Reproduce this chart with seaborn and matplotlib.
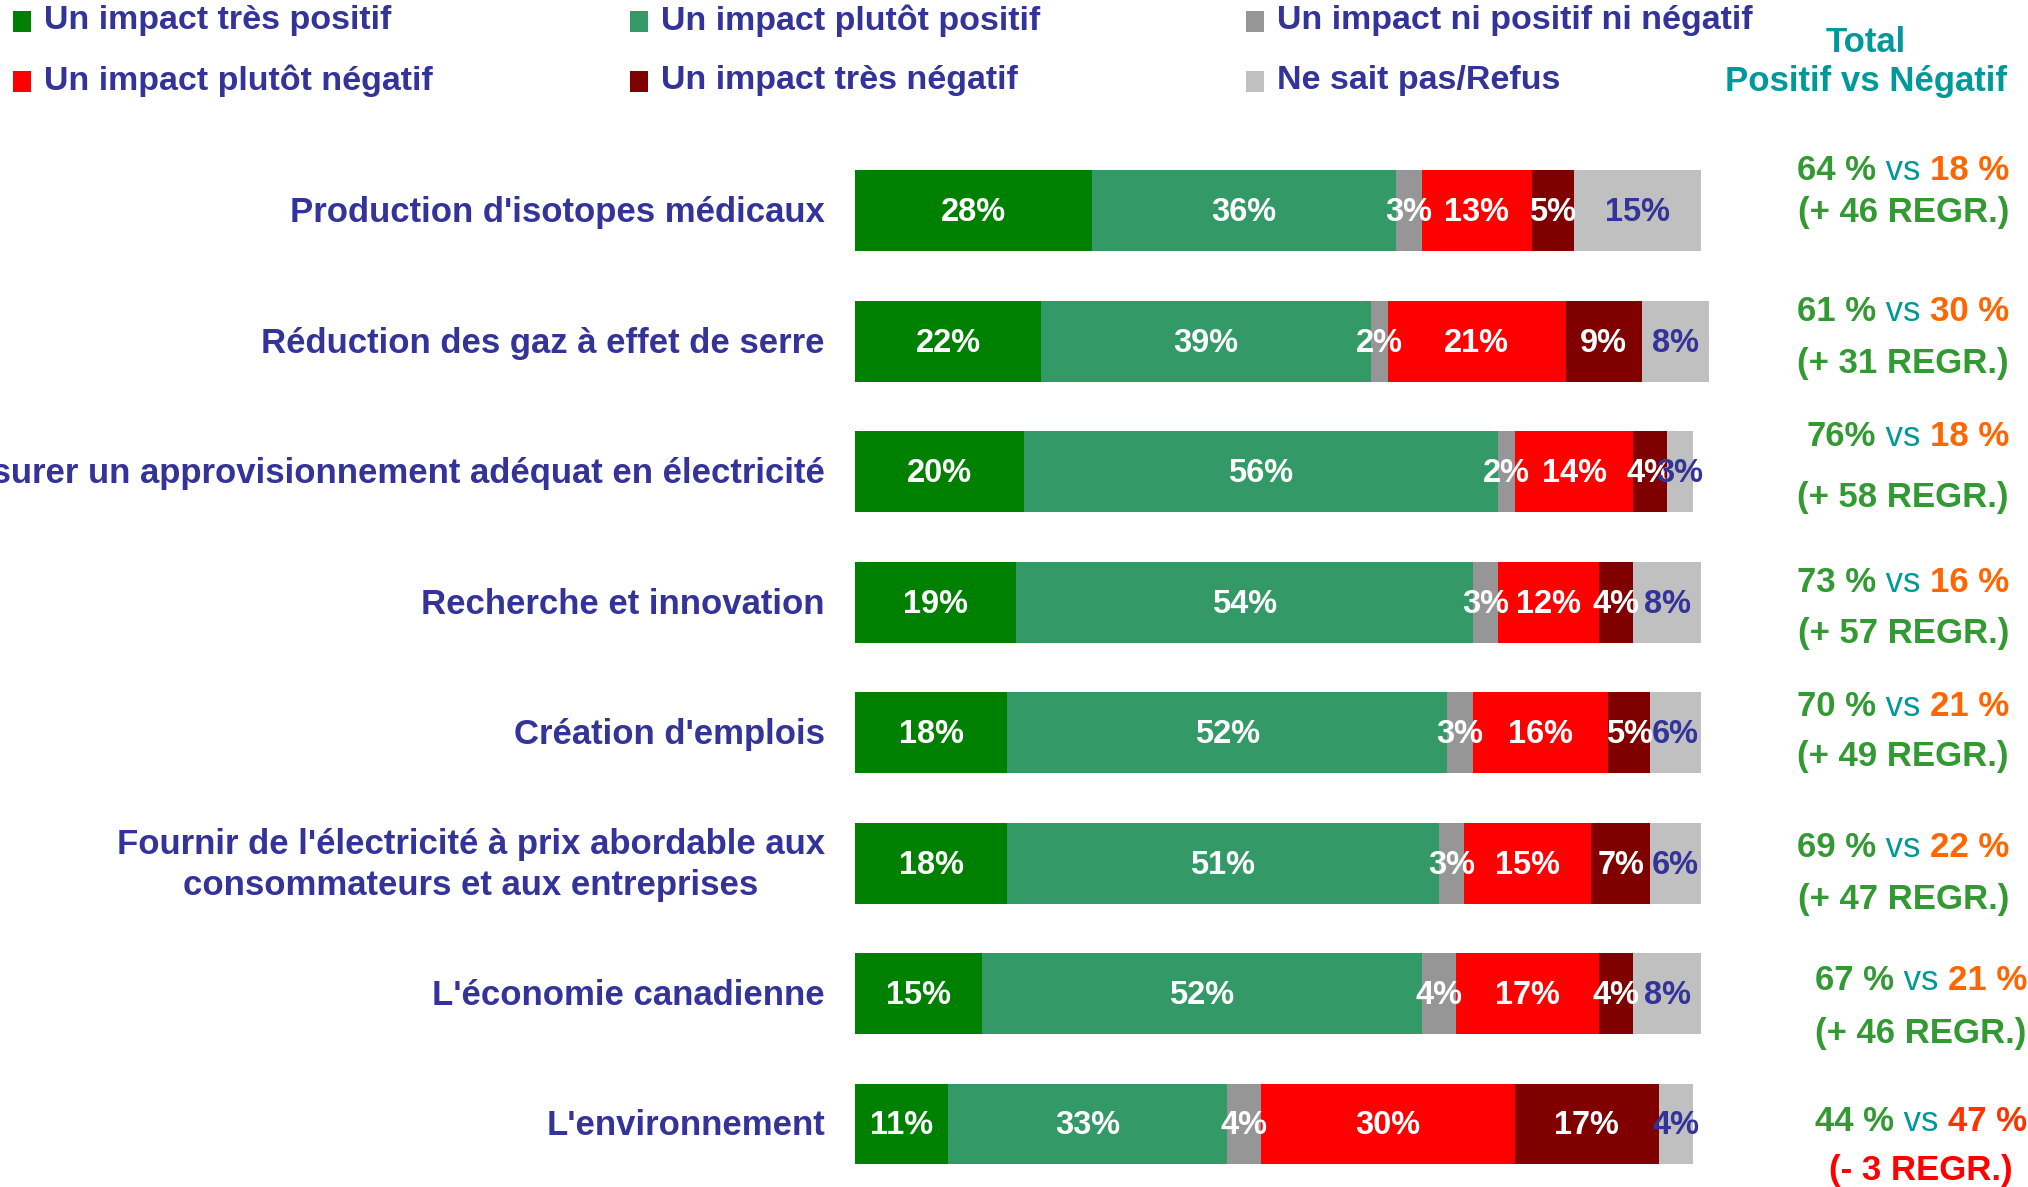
import matplotlib
matplotlib.use("Agg")
import matplotlib.pyplot as plt
from matplotlib.patches import Rectangle
import pandas as pd
import seaborn as sns

# --- data -----------------------------------------------------------------
categories = [
    "Production d'isotopes médicaux",
    "Réduction des gaz à effet de serre",
    "Assurer un approvisionnement adéquat en électricité",
    "Recherche et innovation",
    "Création d'emplois",
    "Fournir de l'électricité à prix abordable aux\nconsommateurs et aux entreprises",
    "L'économie canadienne",
    "L'environnement",
]
tres_positif = [28, 22, 20, 19, 18, 18, 15, 11]
plutot_positif = [36, 39, 56, 54, 52, 51, 52, 33]
ni_ni = [3, 2, 2, 3, 3, 3, 4, 4]
plutot_negatif = [13, 21, 14, 12, 16, 15, 17, 30]
tres_negatif = [5, 9, 4, 4, 5, 7, 4, 17]
nsp = [15, 8, 3, 8, 6, 6, 8, 4]

segment_labels = [
    "Un impact très positif",
    "Un impact plutôt positif",
    "Un impact ni positif ni négatif",
    "Un impact plutôt négatif",
    "Un impact très négatif",
    "Ne sait pas/Refus",
]

total_positif = ["64 %", "61 %", "76%", "73 %", "70 %", "69 %", "67 %", "44 %"]
total_negatif = ["18 %", "30 %", "18 %", "16 %", "21 %", "22 %", "21 %", "47 %"]
ecart = ["(+ 46 REGR.)", "(+ 31 REGR.)", "(+ 58 REGR.)", "(+ 57 REGR.)",
         "(+ 49 REGR.)", "(+ 47 REGR.)", "(+ 46 REGR.)", "(- 3 REGR.)"]

# --- style ----------------------------------------------------------------
colors = ["#008000", "#339966", "#969696", "#FF0000", "#800000", "#C0C0C0"]
navy = "#333399"
green_txt = "#339933"
teal = "#009999"
orange = "#FF6600"

sns.set_theme(style="white")
plt.rcParams["font.family"] = ["Liberation Sans", "DejaVu Sans"]

# offsets of the two summary lines relative to bar centre, and x centre
line1_dy = [-0.31, -0.23, -0.27, -0.15, -0.20, -0.12, -0.10, -0.02]
line2_dy = [0.01, 0.17, 0.20, 0.24, 0.18, 0.28, 0.31, 0.36]
summary_x = [123.9, 123.9, 123.9, 123.9, 123.9, 123.9, 126.0, 126.0]

W, H = 2028, 1187
fig = plt.figure(figsize=(W / 100, H / 100), dpi=100)
ax = fig.add_axes([0, 0, 1, 1])

df = pd.DataFrame({"categorie": categories})
for name, vals in zip(segment_labels, [tres_positif, plutot_positif, ni_ni,
                                       plutot_negatif, tres_negatif, nsp]):
    df[name] = vals
cum = df[segment_labels].cumsum(axis=1)
cum["categorie"] = df["categorie"]

# stacked bars: draw cumulative totals from widest to narrowest
for name, color in reversed(list(zip(segment_labels, colors))):
    sns.barplot(data=cum, x=name, y="categorie", orient="h", color=color,
                saturation=1, width=0.62, linewidth=0, ax=ax)

# map data units to pixel layout: 0 -> 855 px, 100 -> 1701 px
px = (1701 - 855) / 100
ax.set_xlim(-855 / px, (W - 855) / px)
row_px = 130.5
ax.set_ylim(7 + (H - 1124) / row_px, -210.8 / row_px)
ax.axis("off")

# segment labels
for i in range(len(categories)):
    for j, name in enumerate(segment_labels):
        v = df.loc[i, name]
        xc = cum.loc[i, name] - v / 2
        ax.text(xc, i + 0.015, f"{v}%", ha="center", va="center", fontsize=23.5,
                fontweight="bold", color=navy if j == 5 else "white")

# category labels
for i, cat in enumerate(categories):
    ax.text(-30 / px, i + 0.015, cat, ha="right", va="center",
            multialignment="center", fontsize=25, fontweight="bold",
            color=navy, linespacing=1.3)

# summary column
for i in range(len(categories)):
    y1 = i + line1_dy[i]
    vs = ax.text(summary_x[i], y1, " vs ", ha="center", va="center",
                 fontsize=25, color=teal)
    ax.annotate(total_positif[i], xy=(0, 0.5), xycoords=vs, ha="right",
                va="center", fontsize=25, fontweight="bold", color=green_txt)
    neg_color = "#FF3300" if i == 7 else orange
    ax.annotate(total_negatif[i], xy=(1, 0.5), xycoords=vs, ha="left",
                va="center", fontsize=25, fontweight="bold", color=neg_color)
    ax.text(summary_x[i], i + line2_dy[i], ecart[i], ha="center", va="center",
            fontsize=25, fontweight="bold",
            color="#FF0000" if ecart[i].startswith("(-") else green_txt)

fig.text(1866 / W, 1 - 43 / H, "Total", ha="center", va="center",
         fontsize=25, fontweight="bold", color=teal)
fig.text(1866 / W, 1 - 82 / H, "Positif vs Négatif", ha="center", va="center",
         fontsize=25, fontweight="bold", color=teal)

# legend, laid out in three columns
leg_x = [13, 630, 1246]
leg_y = [21, 81]
for k, label in enumerate(segment_labels):
    col, row = k % 3, k // 3
    x0, yc = leg_x[col], leg_y[row]
    fig.add_artist(Rectangle((x0 / W, 1 - (yc + 11) / H), 18 / W, 21 / H,
                             transform=fig.transFigure, color=colors[k],
                             lw=0))
    fig.text((x0 + 31) / W, 1 - yc / H, label, ha="left",
             va="center", fontsize=24.5, fontweight="bold", color=navy)

fig.savefig("out.png", dpi=100)
